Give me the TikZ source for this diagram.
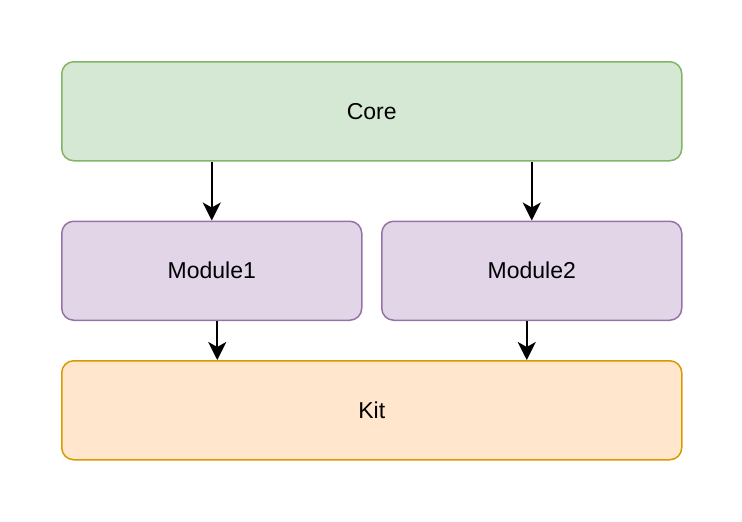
\documentclass[tikz,border=0pt]{standalone}
\usepackage{fontspec}
\setmainfont{Liberation Sans}
\usetikzlibrary{arrows.meta, positioning, calc}
\definecolor{coreline}{HTML}{82B366}
\definecolor{corefill}{HTML}{D5E8D4}
\definecolor{modline}{HTML}{9673A6}
\definecolor{modfill}{HTML}{E1D5E7}
\definecolor{kitline}{HTML}{D79B00}
\definecolor{kitfill}{HTML}{FFE6CC}
\tikzset{
  box/.style={
    rectangle, rounded corners=12pt, line width=1.5pt,
    minimum height=99pt, inner sep=0pt,
    text centered, font=\fontsize{23}{27}\selectfont
  },
  corebox/.style={box, draw=coreline, fill=corefill, minimum width=620pt},
  modbox/.style={box, draw=modline, fill=modfill, minimum width=300pt},
  kitbox/.style={box, draw=kitline, fill=kitfill, minimum width=620pt},
  arrow/.style={-{Stealth[length=18pt, width=18pt, inset=5pt]}, line width=2pt, black},
}
\begin{document}
\begin{tikzpicture}[x=1pt, y=-1pt]
  \useasboundingbox (0,0) rectangle (742,522);

  %% -- Top layer --
  \node[corebox, anchor=north west] (core) at (61,61) {Core};

  %% -- Middle layer --
  \node[modbox, below=59pt of core.south west, anchor=north west] (mod1) {Module1};
  \node[modbox, below=59pt of core.south east, anchor=north east] (mod2) {Module2};

  %% -- Bottom layer --
  \node[kitbox, below=39pt of mod1.south west, anchor=north west] (kit) {Kit};

  %% -- Arrows --
  \draw[arrow] (core.south -| mod1.north) -- (mod1.north);
  \draw[arrow] (core.south -| mod2.north) -- (mod2.north);
  \coordinate (k1) at ($(mod1.south)+(5.5,0)$);
  \coordinate (k2) at ($(mod2.south)+(-5,0)$);
  \draw[arrow] (k1) -- (kit.north -| k1);
  \draw[arrow] (k2) -- (kit.north -| k2);
\end{tikzpicture}
\end{document}
